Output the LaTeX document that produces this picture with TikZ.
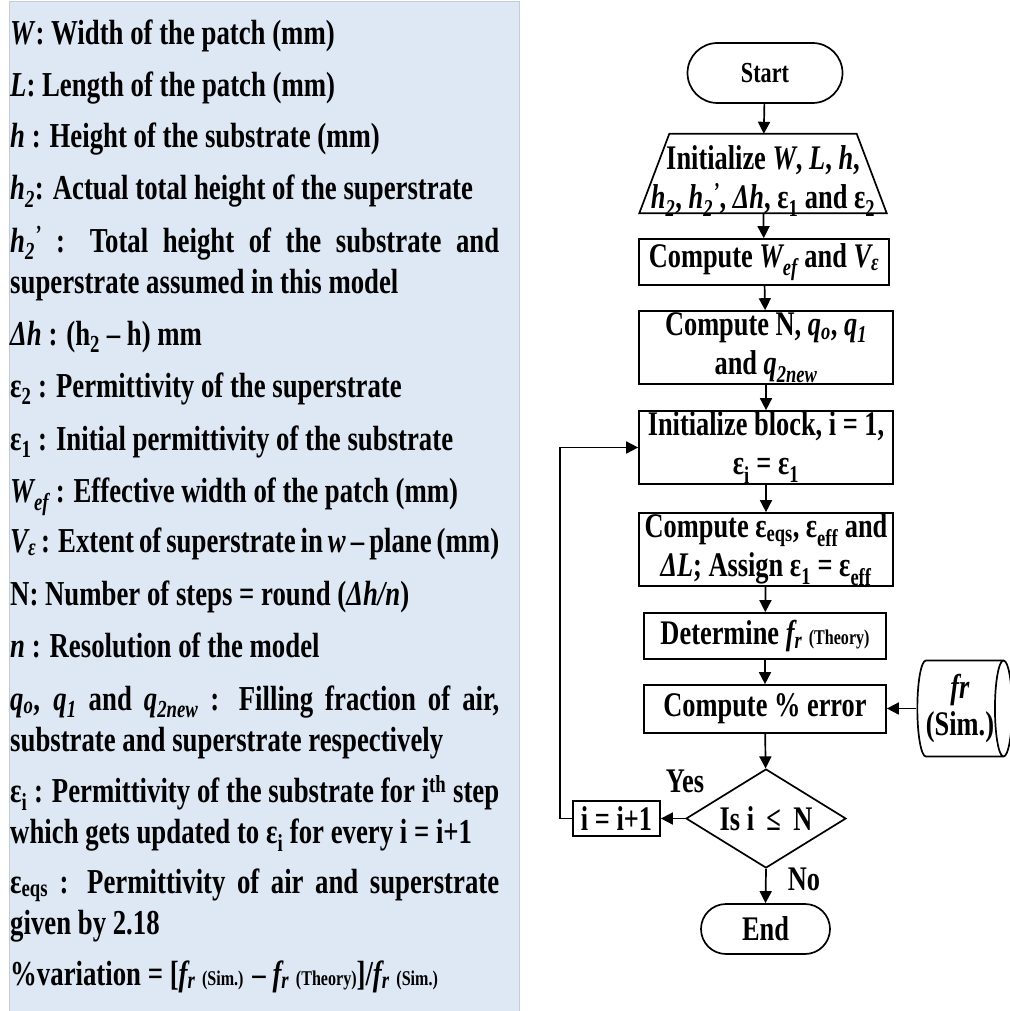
\documentclass[tikz,border=0pt]{standalone}
\usepackage{fontspec}
\setmainfont{Liberation Serif}[FakeStretch=0.765]
\usetikzlibrary{shapes.geometric,arrows.meta}

\definecolor{panelblue}{HTML}{DDE8F4}
\definecolor{panelline}{HTML}{C5CCD6}
\newcommand{\hprime}{\textit{h\textsubscript{2}\textsuperscript{'}}}
\newcommand{\smalltag}[1]{{\fontsize{21}{21}\selectfont #1}}

\begin{document}
\begin{tikzpicture}[x=1pt,y=-1pt,
    every node/.style={font=\bfseries\fontsize{34.5}{39}\selectfont},
    box/.style={draw,line width=1.7pt,inner sep=0pt,align=center},
    conn/.style={line width=1.7pt,-{Triangle[length=12pt,width=12pt]}},
    legend/.style={anchor=base west,inner sep=0pt,text width=489pt,align=justify,
      font=\bfseries\fontsize{35}{41}\selectfont}]
  % Every size of the figure is set through these definitions
  \def\colx{766} \def\bigw{254pt} \def\lowh{73pt}

  \useasboundingbox (0,0) rectangle (1009,1011);

  % legend panel
  \fill[panelblue] (9,2) rectangle (519,1011);
  \draw[panelline,line width=1pt] (9,1011) -- (9,2) -- (519,2) -- (519,1011);

  \node[legend] (lW) at (10,45) {\textit{W}: Width of the patch (mm)};
  \node[legend] (lL) at (10,97) {\textit{L}: Length of the patch (mm)};
  \node[legend] (lh) at (10,148) {\textit{h} : Height of the substrate (mm)};
  \node[legend] (lhtwo) at (10,200) {\textit{h\textsubscript{2}}: Actual total height of the superstrate};
  \node[legend] (lhprime) at (10,252) {\hprime{} : Total height of the substrate and\linebreak superstrate assumed in this model};
  \node[legend] (ldh) at (10,345) {\textit{Δh} : (h\textsubscript{2} -- h) mm};
  \node[legend] (leps2) at (10,397) {ε\textsubscript{2} : Permittivity of the superstrate};
  \node[legend] (leps1) at (10,450) {ε\textsubscript{1} : Initial permittivity of the substrate};
  \node[legend] (lwef) at (10,502) {\textit{W\textsubscript{ef}} : Effective width of the patch (mm)};
  \node[legend] (lveps) at (10,552) {\textit{V\textsubscript{ε}} : Extent of superstrate in \textit{w} -- plane (mm)};
  \node[legend] (lN) at (10,605) {N: Number of steps = round (\textit{Δh/n})};
  \node[legend] (ln) at (10,657) {\textit{n} : Resolution of the model};
  \node[legend] (lq) at (10,710) {\textit{q\textsubscript{o}}, \textit{q\textsubscript{1}} and \textit{q\textsubscript{2new}} : Filling fraction of air,\linebreak substrate and superstrate respectively};
  \node[legend] (lepsi) at (10,802) {ε\textsubscript{i} : Permittivity of the substrate for i\textsuperscript{th} step\linebreak which gets updated to ε\textsubscript{i} for every i = i+1};
  \node[legend] (leqs) at (10,893) {ε\textsubscript{eqs} : Permittivity of air and superstrate\linebreak given by 2.18};
  \node[legend] (lvar) at (10,985) {\%variation = [\textit{f\textsubscript{r}} \smalltag{(Sim.)} -- \textit{f\textsubscript{r}} \smalltag{(Theory)}]/\textit{f\textsubscript{r}} \smalltag{(Sim.)}};

  % flow chart
  \node[box,rounded corners=30pt,minimum width=155pt,minimum height=60pt,
    font=\bfseries\fontsize{29}{33}\selectfont] (start) at (765,73) {Start};
  \node[inner sep=0pt,minimum width=247pt,minimum height=79pt] (init) at (763,173.5) {};
  \draw[line width=1.7pt] (init.south west) -- (init.south east)
    -- ([xshift=-30pt]init.north east) -- ([xshift=30pt]init.north west) -- cycle;
  \node[inner sep=0pt,align=center] (initlabel) at (763,181)
    {Initialize \textit{W}, \textit{L}, \textit{h},\\ \textit{h\textsubscript{2}}, \hprime, \textit{Δh}, ε\textsubscript{1} and ε\textsubscript{2}};
  \node[box,minimum width=250pt,minimum height=46pt] (wef) at (764,262)
    {Compute \textit{W\textsubscript{ef}} and \textit{V\textsubscript{ε}}};
  \node[box,minimum width=\bigw,minimum height=\lowh] (cmpN) at (\colx,347.5)
    {Compute N, \textit{q\textsubscript{o}}, \textit{q\textsubscript{1}}\\ and \textit{q\textsubscript{2new}}};
  \node[box,minimum width=\bigw,minimum height=\lowh] (initblk) at (\colx,447.5)
    {Initialize block, i = 1,\\ ε\textsubscript{i} = ε\textsubscript{1}};
  \node[box,minimum width=\bigw,minimum height=\lowh] (eqs) at (\colx,549.5)
    {Compute ε\textsubscript{eqs}, ε\textsubscript{eff} and\\ \textit{ΔL}; Assign ε\textsubscript{1} = ε\textsubscript{eff}};
  \node[box,minimum width=242pt,minimum height=46pt] (det) at (765,636)
    {Determine \textit{f\textsubscript{r}} \smalltag{(Theory)}};
  \node[box,minimum width=242pt,minimum height=48pt] (err) at (765,709) {Compute \% error};
  \node[box,cylinder,aspect=0.25,minimum width=96pt,minimum height=69pt,
    font=\bfseries\fontsize{34.5}{37}\selectfont] (sim) at (960,708.5) {\textit{fr}\\(Sim.)};
  \node[box,diamond,aspect=1.6,minimum width=160pt,minimum height=99pt] (dec) at (\colx,818.5) {Is i \,≤\, N};
  \node[box,minimum width=87pt,minimum height=35pt] (incr) at (616.5,818.5) {i = i+1};
  \node[box,rounded corners=25pt,minimum width=129pt,minimum height=50pt] (end) at (765.5,929) {End};
  \node (yes) at (685,781) {Yes};
  \node (no) at (804,879) {No};

  \draw[conn] (start) -- (init);
  \draw[conn] (init) -- (wef);
  \draw[conn] (wef) -- (cmpN);
  \draw[conn] (cmpN) -- (initblk);
  \draw[conn] (initblk) -- (eqs);
  \draw[conn] (eqs) -- (det);
  \draw[conn] (det) -- (err);
  \draw[conn] (err) -- (dec);
  \draw[conn] (sim.west) -- (sim.west -| err.east);
  \draw[conn] (dec.west) -- (incr.east);
  \draw[conn] (incr.west) -- ++(-12,0) |- (initblk.west);
  \draw[conn] (dec.south) -- (end.north);
\end{tikzpicture}
\end{document}
